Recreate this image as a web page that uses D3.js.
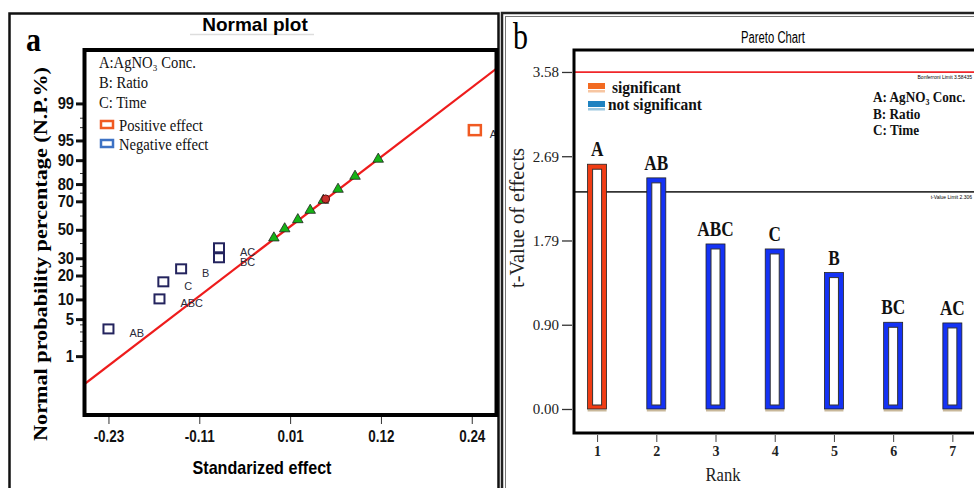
<!DOCTYPE html>
<html>
<head>
<meta charset="utf-8">
<script src="https://cdn.jsdelivr.net/npm/d3@7"></script>
<style>
  body { margin: 0; background: #fff; }
  svg { display: block; }
</style>
</head>
<body>
<div id="chart"></div>
<script>
// ---------- left: normal plot of effects ----------
var effectNames  = ["AB", "ABC", "C", "B", "BC", "AC", "A"];
var effectValues = [-0.230, -0.164, -0.159, -0.136, -0.087, -0.087, 0.244];
var effectPcts   = [3.33, 10.0, 16.67, 23.33, 30.0, 36.67, 96.67];
var effectSigns  = ["neg", "neg", "neg", "neg", "neg", "neg", "pos"];

var errorValues  = [-0.016, -0.002, 0.015, 0.031, 0.048, 0.067, 0.089, 0.119];
var errorPcts    = [43.33, 50.0, 56.67, 63.33, 70.0, 76.67, 83.33, 90.0];

var centerValues = [0.051];
var centerPcts   = [71.5];

var fitValues = [-0.261, 0.272];
var fitPcts   = [0.226, 99.85];

var probTicks  = [1, 5, 10, 20, 30, 50, 70, 80, 90, 95, 99];
var probMinor  = [2, 3, 4, 15, 25, 40, 60, 75, 85, 97, 98];
var effectTicks      = [-0.23, -0.1125, 0.005, 0.1225, 0.24];
var effectTickLabels = ["-0.23", "-0.11", "0.01", "0.12", "0.24"];

var factorNames  = ["A:AgNO₃ Conc.", "B: Ratio", "C: Time"];
var signLegend   = ["Positive effect", "Negative effect"];

// ---------- right: pareto chart ----------
var ranks       = [1, 2, 3, 4, 5, 6, 7];
var paretoTerms = ["A", "AB", "ABC", "C", "B", "BC", "AC"];
var tValues     = [2.60, 2.455, 1.753, 1.70, 1.449, 0.921, 0.914];
var paretoSig   = [true, false, false, false, false, false, false];
var tTicks      = [0, 0.895, 1.79, 2.685, 3.58];
var tTickLabels = ["0.00", "0.90", "1.79", "2.69", "3.58"];
var bonferroniLimit = 3.58435;
var tValueLimit     = 2.306;
var paretoLegend  = ["significant", "not significant"];
var factorNamesB  = ["A: AgNO₃ Conc.", "B: Ratio", "C: Time"];

var SERIF = "'Liberation Serif', 'Times New Roman', serif";
var SANS  = "'Liberation Sans', Arial, sans-serif";

// inverse normal cdf (Acklam)
function probit(p) {
  var a = [-3.969683028665376e+01, 2.209460984245205e+02, -2.759285104469687e+02, 1.383577518672690e+02, -3.066479806614716e+01, 2.506628277459239e+00];
  var b = [-5.447609879822406e+01, 1.615858368580409e+02, -1.556989798598866e+02, 6.680131188771972e+01, -1.328068155288572e+01];
  var c = [-7.784894002430293e-03, -3.223964580411365e-01, -2.400758277161838e+00, -2.549732539343734e+00, 4.374664141464968e+00, 2.938163982698783e+00];
  var d = [7.784695709041462e-03, 3.224671290700398e-01, 2.445134137142996e+00, 3.754408661907416e+00];
  var pl = 0.02425, q, r;
  if (p < pl) {
    q = Math.sqrt(-2 * Math.log(p));
    return (((((c[0]*q+c[1])*q+c[2])*q+c[3])*q+c[4])*q+c[5]) / ((((d[0]*q+d[1])*q+d[2])*q+d[3])*q+1);
  }
  if (p > 1 - pl) {
    q = Math.sqrt(-2 * Math.log(1 - p));
    return -(((((c[0]*q+c[1])*q+c[2])*q+c[3])*q+c[4])*q+c[5]) / ((((d[0]*q+d[1])*q+d[2])*q+d[3])*q+1);
  }
  q = p - 0.5; r = q * q;
  return (((((a[0]*r+a[1])*r+a[2])*r+a[3])*r+a[4])*r+a[5])*q / (((((b[0]*r+b[1])*r+b[2])*r+b[3])*r+b[4])*r+1);
}

// narrow the text like the original export
function squash(sel, k) {
  sel.each(function() {
    var L = this.getComputedTextLength();
    d3.select(this).attr("textLength", L * k).attr("lengthAdjust", "spacingAndGlyphs");
  });
}
function fitW(sel, w) {
  sel.attr("textLength", w).attr("lengthAdjust", "spacingAndGlyphs");
}

var svg = d3.select("#chart").append("svg")
  .attr("width", 974)
  .attr("height", 488);
svg.append("rect").attr("width", 974).attr("height", 488).attr("fill", "#fff");

/* ================= panel a ================= */
var L = { left: 84.5, right: 496.5, top: 50, bottom: 415 };

var xL = d3.scaleLinear().domain([-0.261, 0.272]).range([L.left, L.right]);
var yL = d3.scaleLinear().domain([-3.41, 3.31]).range([L.bottom, L.top]);
var yP = function(p) { return yL(probit(p / 100)); };

var gA = svg.append("g");

gA.append("rect")
  .attr("x", 9.5).attr("y", 13.5).attr("width", 489).attr("height", 490)
  .attr("fill", "none").attr("stroke", "#111").attr("stroke-width", 2.5);

gA.append("line")
  .attr("x1", 190).attr("x2", 314).attr("y1", 34.5).attr("y2", 34.5)
  .attr("stroke", "#ddd").attr("stroke-width", 1.5);
gA.append("text")
  .attr("x", 255).attr("y", 31)
  .attr("text-anchor", "middle")
  .style("font-family", SANS).style("font-weight", "bold").style("font-size", "19px")
  .text("Normal plot");

gA.append("text")
  .attr("x", 26).attr("y", 51)
  .style("font-family", SERIF).style("font-weight", "bold").style("font-size", "34px")
  .text("a").call(fitW, 15);

// axes
var yAxisL = d3.axisLeft(yL)
  .tickValues(probTicks.map(function(p) { return probit(p / 100); }))
  .tickFormat(function(d, i) { return probTicks[i]; })
  .tickSize(8).tickPadding(2);
var gy = gA.append("g").attr("transform", "translate(" + 84 + ",0)").call(yAxisL);
gy.select(".domain").remove();
gy.selectAll(".tick line").attr("stroke", "#111").attr("stroke-width", 3);
gy.selectAll(".tick text")
  .style("font-family", SANS).style("font-weight", "bold").style("font-size", "16px")
  .attr("fill", "#111").call(squash, 0.92);

gA.append("g").selectAll("line")
  .data(probMinor).enter().append("line")
  .attr("x1", 80).attr("x2", 84)
  .attr("y1", function(d) { return yP(d); })
  .attr("y2", function(d) { return yP(d); })
  .attr("stroke", "#333").attr("stroke-width", 1);

var xAxisL = d3.axisBottom(xL)
  .tickValues(effectTicks)
  .tickFormat(function(d, i) { return effectTickLabels[i]; })
  .tickSize(7).tickPadding(7);
var gx = gA.append("g").attr("transform", "translate(0," + 417 + ")").call(xAxisL);
gx.select(".domain").remove();
gx.selectAll(".tick line").attr("stroke", "#333").attr("stroke-width", 1);
gx.selectAll(".tick text")
  .style("font-family", SANS).style("font-weight", "bold").style("font-size", "16px")
  .attr("fill", "#111").call(squash, 0.84);

gA.append("text")
  .attr("x", 262).attr("y", 474)
  .attr("text-anchor", "middle")
  .style("font-family", SANS).style("font-weight", "bold").style("font-size", "19px")
  .text("Standarized effect").call(fitW, 139);

gA.append("text")
  .attr("transform", "translate(47,254) rotate(-90)")
  .attr("text-anchor", "middle")
  .style("font-family", SERIF).style("font-weight", "bold").style("font-size", "18px")
  .text("Normal probability percentage (N.P.%)").call(fitW, 374);

// plot content, clipped to frame
svg.append("clipPath").attr("id", "clipA").append("rect")
  .attr("x", L.left).attr("y", L.top).attr("width", L.right - L.left).attr("height", L.bottom - L.top);
var plotA = gA.append("g").attr("clip-path", "url(#clipA)");

plotA.append("line")
  .attr("x1", xL(fitValues[0])).attr("y1", yP(fitPcts[0]))
  .attr("x2", xL(fitValues[1])).attr("y2", yP(fitPcts[1]))
  .attr("stroke", "#ee1c1c").attr("stroke-width", 2.2);

plotA.selectAll(".err")
  .data(errorValues).enter().append("path")
  .attr("class", "err")
  .attr("transform", function(d, i) { return "translate(" + xL(d) + "," + (yP(errorPcts[i]) - 1) + ")"; })
  .attr("d", d3.symbol(d3.symbolTriangle, 48))
  .attr("fill", "#16b316").attr("stroke", "#222").attr("stroke-width", 0.8);

plotA.selectAll(".ctr")
  .data(centerValues).enter().append("circle")
  .attr("cx", function(d) { return xL(d); })
  .attr("cy", function(d, i) { return yP(centerPcts[i]); })
  .attr("r", 4)
  .attr("fill", "#c8302c").attr("stroke", "#5a1010").attr("stroke-width", 1);

var effects = effectNames.map(function(n, i) {
  return { name: n, v: effectValues[i], p: effectPcts[i], sign: effectSigns[i] };
});

plotA.selectAll(".eff")
  .data(effects).enter().append("rect")
  .attr("class", "eff")
  .attr("x", function(d) { return xL(d.v) - (d.sign == "pos" ? 6 : 5); })
  .attr("y", function(d) { return yP(d.p) - 5; })
  .attr("width", function(d) { return d.sign == "pos" ? 12 : 10; })
  .attr("height", function(d) { return d.sign == "pos" ? 10 : 9; })
  .attr("fill", "#fff")
  .attr("stroke", function(d) { return d.sign == "pos" ? "#f05a22" : "#24245e"; })
  .attr("stroke-width", function(d) { return d.sign == "pos" ? 2.5 : 2; });

plotA.selectAll(".effLab")
  .data(effects).enter().append("text")
  .attr("x", function(d) { return xL(d.v) + (d.sign == "pos" ? 15 : 21); })
  .attr("y", function(d) { return yP(d.p) + 7.5; })
  .style("font-family", SANS).style("font-size", "11.5px")
  .attr("fill", "#2a2a3a")
  .text(function(d) { return d.name; })
  .call(squash, 0.95);

// legend
var legA = gA.append("g");
factorNames.forEach(function(s, i) {
  legA.append("text")
    .attr("x", 99).attr("y", 68 + i * 20)
    .style("font-family", SERIF).style("font-size", "17px").attr("fill", "#111")
    .text(s).call(squash, 0.86);
});
signLegend.forEach(function(s, i) {
  legA.append("rect")
    .attr("x", 101).attr("y", 121 + i * 19).attr("width", 12).attr("height", 7)
    .attr("fill", "#fff")
    .attr("stroke", i == 0 ? "#f05a22" : "#3d72c4").attr("stroke-width", 2.5);
  legA.append("text")
    .attr("x", 119).attr("y", 131 + i * 19)
    .style("font-family", SERIF).style("font-size", "17px").attr("fill", "#111")
    .text(s).call(squash, 0.86);
});

gA.append("rect")
  .attr("x", L.left).attr("y", L.top)
  .attr("width", L.right - L.left).attr("height", L.bottom - L.top)
  .attr("fill", "none").attr("stroke", "#000").attr("stroke-width", 4);

/* ================= panel b ================= */
var R = { left: 574, right: 990, top: 50, bottom: 433 };

var xR = d3.scaleLinear().domain([0.61, 7.45]).range([574, 979]);
var yR = d3.scaleLinear().domain([-0.255, 3.824]).range([R.bottom, 49]);

var gB = svg.append("g");

gB.append("rect")
  .attr("x", 502).attr("y", 13).attr("width", 500).attr("height", 490)
  .attr("fill", "none").attr("stroke", "#222").attr("stroke-width", 2.5);
gB.append("rect")
  .attr("x", 505.5).attr("y", 16.5).attr("width", 500).attr("height", 490)
  .attr("fill", "none").attr("stroke", "#777").attr("stroke-width", 1);

gB.append("text")
  .attr("x", 513).attr("y", 49)
  .style("font-family", SERIF).style("font-size", "38px")
  .text("b").call(fitW, 15);

gB.append("text")
  .attr("x", 773).attr("y", 43)
  .attr("text-anchor", "middle")
  .style("font-family", SANS).style("font-size", "16px")
  .text("Pareto Chart").call(fitW, 64);

// y axis
var yAxisR = d3.axisLeft(yR)
  .tickValues(tTicks)
  .tickFormat(function(d, i) { return tTickLabels[i]; })
  .tickSize(10).tickPadding(3);
var gyR = gB.append("g").attr("transform", "translate(572,0)").call(yAxisR);
gyR.select(".domain").remove();
gyR.selectAll(".tick line").attr("stroke", "#333").attr("stroke-width", 1.3);
gyR.selectAll(".tick text")
  .style("font-family", SERIF).style("font-size", "15px").attr("fill", "#222");

gB.append("text")
  .attr("transform", "translate(524,218) rotate(-90)")
  .attr("text-anchor", "middle")
  .style("font-family", SERIF).style("font-size", "20px").attr("fill", "#222")
  .text("t-Value of effects").call(fitW, 140);

// x axis
var xAxisR = d3.axisBottom(xR)
  .tickValues(ranks)
  .tickFormat(d3.format("d"))
  .tickSize(7).tickPadding(4);
var gxR = gB.append("g").attr("transform", "translate(0,435)").call(xAxisR);
gxR.select(".domain").remove();
gxR.selectAll(".tick line").attr("stroke", "#444").attr("stroke-width", 1);
gxR.selectAll(".tick text")
  .style("font-family", SERIF).style("font-size", "14px").style("font-weight", "bold").attr("fill", "#222");

gB.append("text")
  .attr("x", 723).attr("y", 481)
  .attr("text-anchor", "middle")
  .style("font-family", SERIF).style("font-size", "19px").attr("fill", "#222")
  .text("Rank").call(fitW, 35);

// limit lines
gB.append("line")
  .attr("x1", R.left).attr("x2", R.right)
  .attr("y1", yR(bonferroniLimit) + 0.5).attr("y2", yR(bonferroniLimit) + 0.5)
  .attr("stroke", "#f0262a").attr("stroke-width", 1.8);
gB.append("text")
  .attr("x", 972).attr("y", yR(bonferroniLimit) + 7)
  .attr("text-anchor", "end")
  .style("font-family", SANS).style("font-size", "5px")
  .text("Bonferroni Limit " + bonferroniLimit);

gB.append("line")
  .attr("x1", R.left).attr("x2", R.right)
  .attr("y1", yR(tValueLimit)).attr("y2", yR(tValueLimit))
  .attr("stroke", "#333").attr("stroke-width", 1.8);
gB.append("text")
  .attr("x", 972).attr("y", yR(tValueLimit) + 7)
  .attr("text-anchor", "end")
  .style("font-family", SANS).style("font-size", "5px")
  .text("t-Value Limit " + tValueLimit);

// bars
var bars = ranks.map(function(r, i) {
  return { rank: r, term: paretoTerms[i], t: tValues[i], sig: paretoSig[i] };
});
var bw = 19;
var bar = gB.selectAll(".bar")
  .data(bars).enter().append("g").attr("class", "bar");

bar.append("line")
  .attr("x1", function(d) { return xR(d.rank) - bw / 2; })
  .attr("x2", function(d) { return xR(d.rank) + bw / 2; })
  .attr("y1", yR(0) + 1.5).attr("y2", yR(0) + 1.5)
  .attr("stroke", "#c9b89a").attr("stroke-width", 2);
bar.append("rect")
  .attr("x", function(d) { return xR(d.rank) - bw / 2; })
  .attr("y", function(d) { return yR(d.t); })
  .attr("width", bw)
  .attr("height", function(d) { return yR(0) - yR(d.t); })
  .attr("fill", function(d) { return d.sig ? "#f03c14" : "#1432f5"; })
  .attr("stroke", "#222").attr("stroke-width", 0.8);
bar.append("rect")
  .attr("x", function(d) { return xR(d.rank) - 4.5; })
  .attr("y", function(d) { return yR(d.t) + 5; })
  .attr("width", 9)
  .attr("height", function(d) { return yR(0) - yR(d.t) - 9; })
  .attr("fill", "#fff").attr("stroke", "#333").attr("stroke-width", 1);
bar.append("text")
  .attr("x", function(d) { return xR(d.rank); })
  .attr("y", function(d) { return yR(d.t) - 8; })
  .attr("text-anchor", "middle")
  .style("font-family", SERIF).style("font-weight", "bold").style("font-size", "20px").attr("fill", "#111")
  .text(function(d) { return d.term; })
  .call(squash, 0.86);

// legends
var legB = gB.append("g");
paretoLegend.forEach(function(s, i) {
  var y0 = 83 + i * 18;
  legB.append("rect")
    .attr("x", 588).attr("y", y0).attr("width", 17).attr("height", 6)
    .attr("fill", i == 0 ? "#f26a21" : "#1f82c0");
  legB.append("rect")
    .attr("x", 588).attr("y", y0 + 7).attr("width", 17).attr("height", 2.5)
    .attr("fill", i == 0 ? "#f7c6a2" : "#9cc8e0");
  legB.append("text")
    .attr("x", i == 0 ? 612 : 608).attr("y", 93 + i * 17)
    .style("font-family", SERIF).style("font-weight", "bold").style("font-size", "17px").attr("fill", "#111")
    .text(s).call(fitW, i == 0 ? 69 : 94);
});
factorNamesB.forEach(function(s, i) {
  legB.append("text")
    .attr("x", 873).attr("y", 102 + i * 16.5)
    .style("font-family", SERIF).style("font-weight", "bold").style("font-size", "15px").attr("fill", "#111")
    .text(s).call(squash, 0.88);
});

gB.append("rect")
  .attr("x", R.left).attr("y", R.top)
  .attr("width", R.right - R.left).attr("height", R.bottom - R.top)
  .attr("fill", "none").attr("stroke", "#000").attr("stroke-width", 3);
</script>
</body>
</html>
